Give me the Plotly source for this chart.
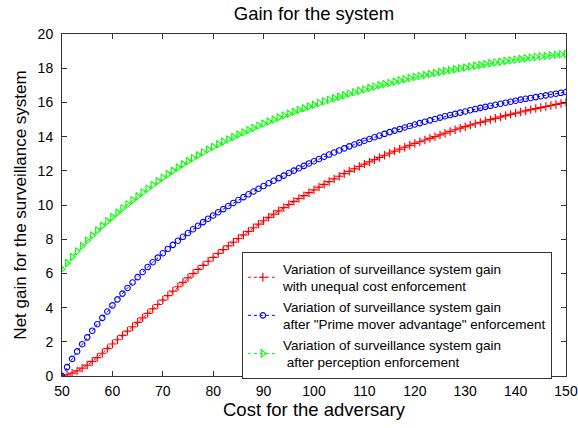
import plotly.graph_objects as go

cost = list(range(50, 151))

gain_unequal = [
    0.00, 0.07, 0.17, 0.30, 0.46, 0.64, 0.85, 1.08, 1.33, 1.60,
    1.87, 2.12, 2.37, 2.62, 2.88, 3.14, 3.40, 3.66, 3.92, 4.18,
    4.44, 4.70, 4.96, 5.22, 5.48, 5.74, 5.99, 6.23, 6.47, 6.71,
    6.94, 7.17, 7.39, 7.61, 7.83, 8.04, 8.25, 8.46, 8.67, 8.88,
    9.08, 9.28, 9.47, 9.66, 9.85, 10.03, 10.21, 10.38, 10.55, 10.72,
    10.89, 11.05, 11.21, 11.37, 11.53, 11.68, 11.83, 11.97, 12.11, 12.25,
    12.39, 12.52, 12.65, 12.78, 12.91, 13.03, 13.15, 13.27, 13.38, 13.49,
    13.60, 13.70, 13.80, 13.90, 14.00, 14.10, 14.20, 14.30, 14.40, 14.49,
    14.58, 14.67, 14.75, 14.83, 14.91, 14.99, 15.07, 15.15, 15.23, 15.30,
    15.37, 15.44, 15.51, 15.58, 15.64, 15.70, 15.76, 15.82, 15.88, 15.94,
    16.00,
]

gain_prime = [
    0.00, 0.52, 1.00, 1.44, 1.86, 2.26, 2.65, 3.03, 3.40, 3.77,
    4.13, 4.48, 4.82, 5.15, 5.47, 5.78, 6.08, 6.37, 6.65, 6.92,
    7.18, 7.43, 7.67, 7.91, 8.14, 8.36, 8.58, 8.79, 9.00, 9.20,
    9.39, 9.58, 9.76, 9.94, 10.12, 10.29, 10.46, 10.63, 10.79, 10.95,
    11.11, 11.27, 11.42, 11.57, 11.72, 11.87, 12.01, 12.15, 12.29, 12.43,
    12.56, 12.69, 12.82, 12.95, 13.07, 13.19, 13.31, 13.43, 13.54, 13.65,
    13.76, 13.86, 13.96, 14.06, 14.16, 14.26, 14.35, 14.44, 14.53, 14.62,
    14.71, 14.79, 14.87, 14.95, 15.03, 15.11, 15.19, 15.26, 15.33, 15.40,
    15.47, 15.54, 15.61, 15.68, 15.74, 15.80, 15.86, 15.92, 15.98, 16.04,
    16.10, 16.16, 16.21, 16.26, 16.31, 16.36, 16.41, 16.46, 16.51, 16.56,
    16.61,
]

gain_perception = [
    6.25, 6.61, 6.96, 7.29, 7.61, 7.92, 8.22, 8.51, 8.79, 9.05,
    9.30, 9.55, 9.80, 10.04, 10.28, 10.51, 10.74, 10.96, 11.18, 11.39,
    11.60, 11.80, 12.00, 12.19, 12.38, 12.56, 12.74, 12.91, 13.08, 13.24,
    13.40, 13.55, 13.70, 13.84, 13.98, 14.12, 14.25, 14.38, 14.51, 14.64,
    14.76, 14.88, 15.00, 15.12, 15.23, 15.34, 15.45, 15.56, 15.66, 15.76,
    15.86, 15.96, 16.06, 16.15, 16.24, 16.33, 16.42, 16.51, 16.60, 16.68,
    16.76, 16.84, 16.92, 17.00, 17.07, 17.14, 17.21, 17.28, 17.35, 17.42,
    17.48, 17.54, 17.60, 17.66, 17.72, 17.78, 17.84, 17.89, 17.94, 17.99,
    18.04, 18.09, 18.14, 18.19, 18.24, 18.29, 18.34, 18.38, 18.42, 18.46,
    18.50, 18.54, 18.58, 18.62, 18.66, 18.69, 18.72, 18.75, 18.78, 18.81,
    18.84,
]

names = [
    "Variation of surveillance system gain<br>with unequal cost enforcement",
    "Variation of surveillance system gain<br>after \"Prime mover advantage\" enforcement",
    "Variation of surveillance system gain<br> after perception enforcement",
]

x_ticks = [50, 60, 70, 80, 90, 100, 110, 120, 130, 140, 150]
y_ticks = [0, 2, 4, 6, 8, 10, 12, 14, 16, 18, 20]

FONT = "Liberation Sans, Arial, Helvetica, sans-serif"

fig = go.Figure()
fig.add_trace(go.Scatter(
    x=cost, y=gain_unequal, name=names[0], mode="lines+markers",
    line=dict(color="#ff0000", width=1, dash="dot"),
    marker=dict(symbol="cross-thin", size=6, line=dict(color="#ff0000", width=1.2)),
))
fig.add_trace(go.Scatter(
    x=cost, y=gain_prime, name=names[1], mode="lines+markers",
    line=dict(color="#0000ff", width=1, dash="dot"),
    marker=dict(symbol="circle-open", size=5.5, color="#0000ff", line=dict(width=1.1)),
))
fig.add_trace(go.Scatter(
    x=cost, y=gain_perception, name=names[2], mode="lines+markers",
    line=dict(color="#00ff00", width=1, dash="dot"),
    marker=dict(symbol="triangle-right-open", size=6.5, color="#00ff00", line=dict(width=1.1)),
))

axis_common = dict(
    showline=True, linecolor="#333333", linewidth=1, mirror="ticks",
    ticks="inside", ticklen=5, tickcolor="#333333", showgrid=False, zeroline=False,
    automargin=False,
    tickfont=dict(family=FONT, size=14, color="#000000"),
)

fig.update_layout(
    width=578, height=428,
    margin=dict(l=62, r=12, t=34, b=52),
    paper_bgcolor="white", plot_bgcolor="white",
    title=dict(text="Gain for the system", x=314 / 578, xref="container", y=1 - 14 / 428, yref="container",
               xanchor="center", yanchor="middle", automargin=False,
               font=dict(family=FONT, size=18.5, color="#000000")),
    xaxis=dict(range=[50, 150], tickvals=x_ticks, ticktext=[str(v) for v in x_ticks],
               title=dict(text="Cost for the adversary", font=dict(family=FONT, size=18.5, color="#000000"),
                          standoff=2),
               ticklabelstandoff=2,
               **axis_common),
    yaxis=dict(range=[0, 20], tickvals=y_ticks, ticktext=[str(v) for v in y_ticks],
               title=dict(text="Net gain for the surveillance system", font=dict(family=FONT, size=17, color="#000000"),
                          standoff=6),
               ticklabelstandoff=5,
               **axis_common),
    legend=dict(x=0.972, y=0.362, xanchor="right", yanchor="top",
                bgcolor="white", bordercolor="#333333", borderwidth=1,
                font=dict(family=FONT, size=13.5, color="#000000"),
                itemwidth=30, tracegroupgap=0),
    showlegend=True,
)

fig.write_html("out.html", config={"displayModeBar": False},
               post_script="document.body.style.margin='0';document.body.style.padding='0';")
